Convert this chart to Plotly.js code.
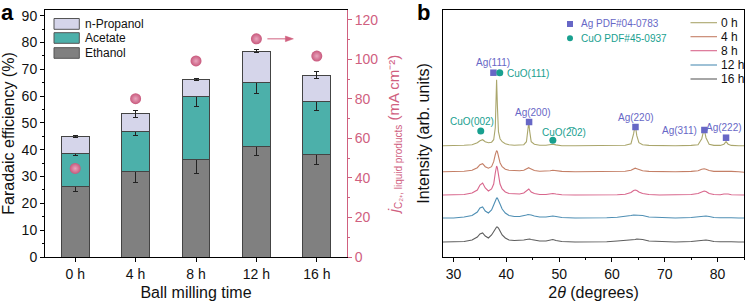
<!DOCTYPE html>
<html><head><meta charset="utf-8">
<script src="https://cdn.plot.ly/plotly-3.0.1.min.js"></script>
<style>html,body{margin:0;padding:0;background:#fff}#chart{width:746px;height:304px}</style>
</head><body><div id="chart"></div>
<script>
// ---------- Panel a data ----------
const categories = ['0 h', '4 h', '8 h', '12 h', '16 h'];
const ethanolFE = [26.2, 32.0, 36.4, 41.3, 38.3];
const ethanolErr = [1.7, 4.4, 5.2, 3.4, 3.9];
const acetateFE = [12.4, 14.8, 23.5, 23.6, 19.8];
const acetateErr = [0.9, 1.4, 3.8, 4.0, 3.4];
const propanolFE = [6.3, 6.6, 6.2, 11.8, 9.7];
const propanolErr = [0.5, 1.2, 0.3, 0.6, 1.4];
const currentDensity = [44.8, 80.1, 99.2, 110.4, 101.7];
const productNames = ['n-Propanol', 'Acetate', 'Ethanol'];

// ---------- Panel b data ----------
const twoTheta = [28, 30, 32, 33.5, 34.5, 35.0, 35.5, 36.0, 36.6, 37.2, 37.6, 37.9, 38.05, 38.15, 38.3, 38.5, 38.8, 39.2, 39.8, 40.5, 41.5, 42.5, 43.3, 43.8, 44.1, 44.25, 44.4, 44.7, 45.3, 46.3, 47.5, 48.3, 48.8, 49.4, 50.5, 53, 56, 59, 61, 62.5, 63.6, 64.1, 64.4, 64.7, 65.1, 65.8, 67, 69, 72, 75, 76.3, 77.0, 77.45, 77.8, 78.4, 79.3, 80.5, 81.2, 81.6, 82.0, 82.6, 84, 85];
const xrd0h = [0, 0, 0.5, 1, 3, 5, 6, 4, 3, 3.5, 6, 18, 50, 66, 40, 14, 7, 4, 2, 1, 0.5, 0.5, 1, 4, 18, 24, 15, 4, 1.5, 0.5, 0.5, 1, 1.5, 0.8, 0, 0, 0, 0, 0.3, 0.5, 2, 12, 21, 10, 3, 1, 0.3, 0, 0, 0.3, 1, 7, 17, 8, 1.5, 0.3, 0.3, 1.5, 4, 1.5, 0.3, 0, 0];
const xrd4h = [0, 0, 0.5, 1.5, 4, 7, 8, 5, 3.5, 5, 10, 17, 20, 21, 20, 15, 9, 5, 2.5, 1.5, 1, 1, 1.5, 3, 4, 4, 3.5, 2.5, 1.2, 0.5, 0.5, 1, 1.5, 1, 0.3, 0, 0, 0, 0.3, 0.5, 1.5, 3, 3.5, 3, 2, 1, 0.3, 0, 0, 0.3, 1, 2.5, 3, 2.5, 1.2, 0.3, 0.3, 0.8, 1, 0.8, 0.3, 0, -0.5];
const xrd8h = [0, 0, 0.5, 2, 5, 10, 12, 7, 4, 6, 11, 22, 27, 29, 27, 20, 11, 6, 3, 1.5, 1, 1, 2, 4.5, 6, 6, 5, 3, 1.5, 0.5, 0.5, 1, 1.5, 1, 0.3, 0, 0, 0, 0.3, 0.8, 2.5, 4.5, 5, 4.5, 3, 1.5, 0.5, 0, 0, 0.5, 1.5, 3.5, 4, 3.5, 1.5, 0.5, 0.3, 1, 1.3, 1, 0.3, 0, 0];
const xrd12h = [0, 0, 1, 2.5, 6, 10, 11, 7, 5, 8, 13, 17, 19, 20, 20, 18, 14, 9, 5, 2.5, 1.5, 1.5, 2, 3, 3.5, 3.5, 3.5, 3, 2, 1, 1, 1.5, 2, 1.5, 0.5, 0, 0, 0.3, 0.8, 1.5, 2.5, 3, 3, 3, 3, 2.5, 1, 0.3, 0, 0.5, 1.5, 2, 2.3, 2, 1.5, 0.5, 0.3, 0.5, 0.5, 0.5, 0.3, 0, 0];
const xrd16h = [0, 0, 0.5, 2, 5, 8, 9, 6, 4, 7, 11, 13.5, 14.5, 15, 15, 14, 11, 7, 4, 2, 1.5, 1.5, 2, 2.5, 3, 3, 3, 2.5, 2, 1, 1, 1.5, 2.5, 1.5, 0.5, 0, 0, 0.3, 1, 1.5, 2, 2.5, 2.5, 3, 3, 2.5, 1, 0.3, 0, 0.5, 1.5, 2, 2.3, 2, 1.5, 0.5, 0.3, 0.5, 0.5, 0.5, 0.3, 0, 0];
const xrdSeriesNames = ['0 h', '4 h', '8 h', '12 h', '16 h'];
const xrdOffsets = [111.3, 85.3, 62, 39, 15];

const agPeakX = [37.55, 44.3, 64.45, 77.5, 81.6];
const agMarkY = [184.3, 135, 130, 127, 119.3];
const agLabels = ['Ag(111)', 'Ag(200)', 'Ag(220)', 'Ag(311)', 'Ag(222)'];
const cuoPeakX = [35.15, 38.75, 48.8];
const cuoMarkY = [126, 184.3, 116.7];
const cuoLabels = ['CuO(002)', 'CuO(111)', 'CuO(2\u030502)'];
const refNames = ['Ag PDF#04-0783', 'CuO PDF#45-0937'];

// ---------- Styles ----------
const FONT = 'Liberation Sans, Arial, Helvetica, sans-serif';
const cEth = '#808080', cAce = '#4cb0aa', cPro = '#d5d5ea';
const cPink = '#d0607f', cSphere = '#c8587c';
const cAg = '#6767c6', cCuO = '#18a08f';
const xrdColors = ['#aaa66c', '#c47f66', '#d8668c', '#4f8fb4', '#5e5e5e'];

// plot-area geometry helpers (pixel -> paper) for legend swatches / labels
const L = 45, R = 744, T = 10, B = 257;
const px = x => (x - L) / (R - L);
const py = y => (B - y) / (B - T);

const errStyle = arr => ({type: 'data', array: arr, visible: true, color: '#222', thickness: 1, width: 2.5});
const barLine = {color: '#444', width: 1};

const traces = [
  {type: 'bar', x: categories, y: ethanolFE, name: productNames[2], marker: {color: cEth, line: barLine},
   error_y: errStyle(ethanolErr), width: 0.46, showlegend: false, xaxis: 'x', yaxis: 'y'},
  {type: 'bar', x: categories, y: acetateFE, name: productNames[1], marker: {color: cAce, line: barLine},
   error_y: errStyle(acetateErr), width: 0.46, showlegend: false, xaxis: 'x', yaxis: 'y'},
  {type: 'bar', x: categories, y: propanolFE, name: productNames[0], marker: {color: cPro, line: barLine},
   error_y: errStyle(propanolErr), width: 0.46, showlegend: false, xaxis: 'x', yaxis: 'y'},
  {type: 'scatter', mode: 'markers', x: categories, y: currentDensity, name: 'j', xaxis: 'x', yaxis: 'y2',
   marker: {size: 11, color: cSphere, gradient: {type: 'radial', color: '#e9a6be'}, line: {width: 0}}, showlegend: false}
];

const xrdData = [xrd0h, xrd4h, xrd8h, xrd12h, xrd16h];
xrdData.forEach((arr, i) => {
  traces.push({type: 'scatter', mode: 'lines', x: twoTheta, y: arr.map(v => v + xrdOffsets[i]),
    name: xrdSeriesNames[i], line: {color: xrdColors[i], width: 1.1}, xaxis: 'x2', yaxis: 'y3', showlegend: false});
});
traces.push({type: 'scatter', mode: 'markers', x: agPeakX, y: agMarkY, name: refNames[0], xaxis: 'x2', yaxis: 'y3',
  marker: {symbol: 'square', size: 6.5, color: cAg}, showlegend: false});
traces.push({type: 'scatter', mode: 'markers', x: cuoPeakX, y: cuoMarkY, name: refNames[1], xaxis: 'x2', yaxis: 'y3',
  marker: {symbol: 'circle', size: 7, color: cCuO}, showlegend: false});

const shapes = [];
const annotations = [];

// panel a legend
const legA_rows = [[18.5, 29.3], [32.7, 43.3], [47.7, 58.3]];
const legA_cols = [cPro, cAce, cEth];
productNames.forEach((n, i) => {
  shapes.push({type: 'rect', xref: 'paper', yref: 'paper', x0: px(54), x1: px(79.3), y0: py(legA_rows[i][1]), y1: py(legA_rows[i][0]),
    fillcolor: legA_cols[i], line: {color: '#555', width: 1}});
  annotations.push({xref: 'paper', yref: 'paper', x: px(83), y: py((legA_rows[i][0] + legA_rows[i][1]) / 2), text: n,
    showarrow: false, xanchor: 'left', yanchor: 'middle', font: {size: 12, color: '#111', family: FONT}});
});

// panel b line legend
const legB_rows = [22.7, 36.7, 50.7, 65.0, 79.0];
xrdSeriesNames.forEach((n, i) => {
  shapes.push({type: 'line', xref: 'paper', yref: 'paper', x0: px(690.5), x1: px(717), y0: py(legB_rows[i]), y1: py(legB_rows[i]),
    line: {color: xrdColors[i], width: 1.1}});
  annotations.push({xref: 'paper', yref: 'paper', x: px(719), y: py(legB_rows[i]), text: n,
    showarrow: false, xanchor: 'left', yanchor: 'middle', font: {size: 12, color: '#111', family: FONT}});
});

// panel b reference-pattern legend
shapes.push({type: 'rect', xref: 'paper', yref: 'paper', x0: px(567), x1: px(573), y0: py(27), y1: py(21), fillcolor: cAg, line: {width: 0}});
shapes.push({type: 'circle', xref: 'paper', yref: 'paper', x0: px(567), x1: px(573), y0: py(41.3), y1: py(35.3), fillcolor: cCuO, line: {width: 0}});
annotations.push({xref: 'paper', yref: 'paper', x: px(578.5), y: py(24), text: refNames[0], showarrow: false,
  xanchor: 'left', yanchor: 'middle', font: {size: 10, color: cAg, family: FONT}});
annotations.push({xref: 'paper', yref: 'paper', x: px(578.5), y: py(38.3), text: refNames[1], showarrow: false,
  xanchor: 'left', yanchor: 'middle', font: {size: 10, color: cCuO, family: FONT}});

// peak labels
const agShift = [[0, 10, 'center'], [4, 10, 'center'], [1, 10, 'center'], [-5, 0, 'right'], [-2, 10.5, 'center']];
agLabels.forEach((t, i) => {
  annotations.push({xref: 'x2', yref: 'y3', x: agPeakX[i], y: agMarkY[i], text: t, showarrow: false,
    xshift: agShift[i][0], yshift: agShift[i][1], xanchor: agShift[i][2], yanchor: 'middle',
    font: {size: 10, color: cAg, family: FONT}});
});
const cuoShift = [[-9, 10, 'center'], [5, -1, 'left'], [11, 8, 'center']];
cuoLabels.forEach((t, i) => {
  annotations.push({xref: 'x2', yref: 'y3', x: cuoPeakX[i], y: cuoMarkY[i], text: t, showarrow: false,
    xshift: cuoShift[i][0], yshift: cuoShift[i][1], xanchor: cuoShift[i][2], yanchor: 'middle',
    font: {size: 10, color: cCuO, family: FONT}});
});

// arrow pointing to the right axis (next to the 12 h sphere)
shapes.push({type: 'path', xref: 'x', yref: 'y2', xsizemode: 'pixel', ysizemode: 'pixel', xanchor: 3, yanchor: currentDensity[3],
  path: 'M11,0 L33,0', line: {color: cPink, width: 1}});
shapes.push({type: 'path', xref: 'x', yref: 'y2', xsizemode: 'pixel', ysizemode: 'pixel', xanchor: 3, yanchor: currentDensity[3],
  path: 'M29,-2.8 L37,0 L29,2.8 Z', fillcolor: cPink, line: {color: cPink, width: 0.5}});

// panel labels
annotations.push({xref: 'paper', yref: 'paper', x: px(7), y: py(12.5), text: '<b>a</b>', showarrow: false,
  xanchor: 'center', yanchor: 'middle', font: {size: 22, color: '#000', family: FONT}});
annotations.push({xref: 'paper', yref: 'paper', x: px(423), y: py(12.5), text: '<b>b</b>', showarrow: false,
  xanchor: 'center', yanchor: 'middle', font: {size: 22, color: '#000', family: FONT}});

const tickFont = {size: 14, color: '#111', family: FONT};
const titleFont = {size: 16, color: '#111', family: FONT};
const dA = [0, px(347)], dB = [px(443), 1];

const jTitle = '<i>j</i><span style="font-size:10px;baseline-shift:-3px">C\u2082\u208a, liquid products</span> (mA cm\u207b\u00b2)';

const layout = {
  width: 746, height: 304,
  margin: {l: L, r: 746 - R, t: T, b: 304 - B, pad: 0},
  paper_bgcolor: '#fff', plot_bgcolor: '#fff',
  font: {family: FONT, size: 14, color: '#111'},
  barmode: 'stack', bargap: 0.54,
  showlegend: false,
  xaxis: {domain: dA, type: 'category', range: [-0.5, 4.5], showline: true, linecolor: '#000', linewidth: 1, mirror: true,
    ticks: 'outside', ticklen: 4, tickcolor: '#000', tickfont: tickFont, showgrid: false, zeroline: false,
    title: {text: 'Ball milling time', font: titleFont, standoff: 6}, anchor: 'y'},
  yaxis: {domain: [0, 1], range: [0, 92.1], dtick: 10, showline: true, linecolor: '#000', linewidth: 1,
    ticks: 'outside', ticklen: 4, tickcolor: '#000', tickfont: tickFont, showgrid: false, zeroline: false,
    minor: {dtick: 5, ticks: 'outside', ticklen: 2, tickcolor: '#000', showgrid: false},
    title: {text: 'Faradaic efficiency (%)', font: titleFont, standoff: 4}, anchor: 'x'},
  yaxis2: {overlaying: 'y', side: 'right', anchor: 'x', range: [0, 125], dtick: 20, showline: true, linecolor: cPink, linewidth: 1,
    ticks: 'outside', ticklen: 4, tickcolor: cPink, tickfont: {size: 14, color: cPink, family: FONT}, showgrid: false, zeroline: false,
    minor: {dtick: 10, ticks: 'outside', ticklen: 2, tickcolor: cPink, showgrid: false},
    title: {text: jTitle, font: {size: 15, color: cPink, family: FONT}, standoff: 11}},
  xaxis2: {domain: dB, anchor: 'y3', range: [28, 85], dtick: 10, showline: true, linecolor: '#000', linewidth: 1, mirror: true,
    ticks: 'outside', ticklen: 4, tickcolor: '#000', tickfont: tickFont, showgrid: false, zeroline: false,
    minor: {dtick: 5, ticks: 'outside', ticklen: 2, tickcolor: '#000', showgrid: false},
    title: {text: '2<i>\u03b8</i> (degrees)', font: titleFont, standoff: 6}},
  yaxis3: {domain: [0, 1], anchor: 'x2', range: [0, 247], showline: true, linecolor: '#000', linewidth: 1, mirror: true,
    ticks: '', showticklabels: false, showgrid: false, zeroline: false,
    title: {text: 'Intensity (arb. units)', font: titleFont, standoff: 8}},
  shapes: shapes,
  annotations: annotations
};

Plotly.newPlot('chart', traces, layout, {displayModeBar: false, staticPlot: true});
</script>
</body></html>
